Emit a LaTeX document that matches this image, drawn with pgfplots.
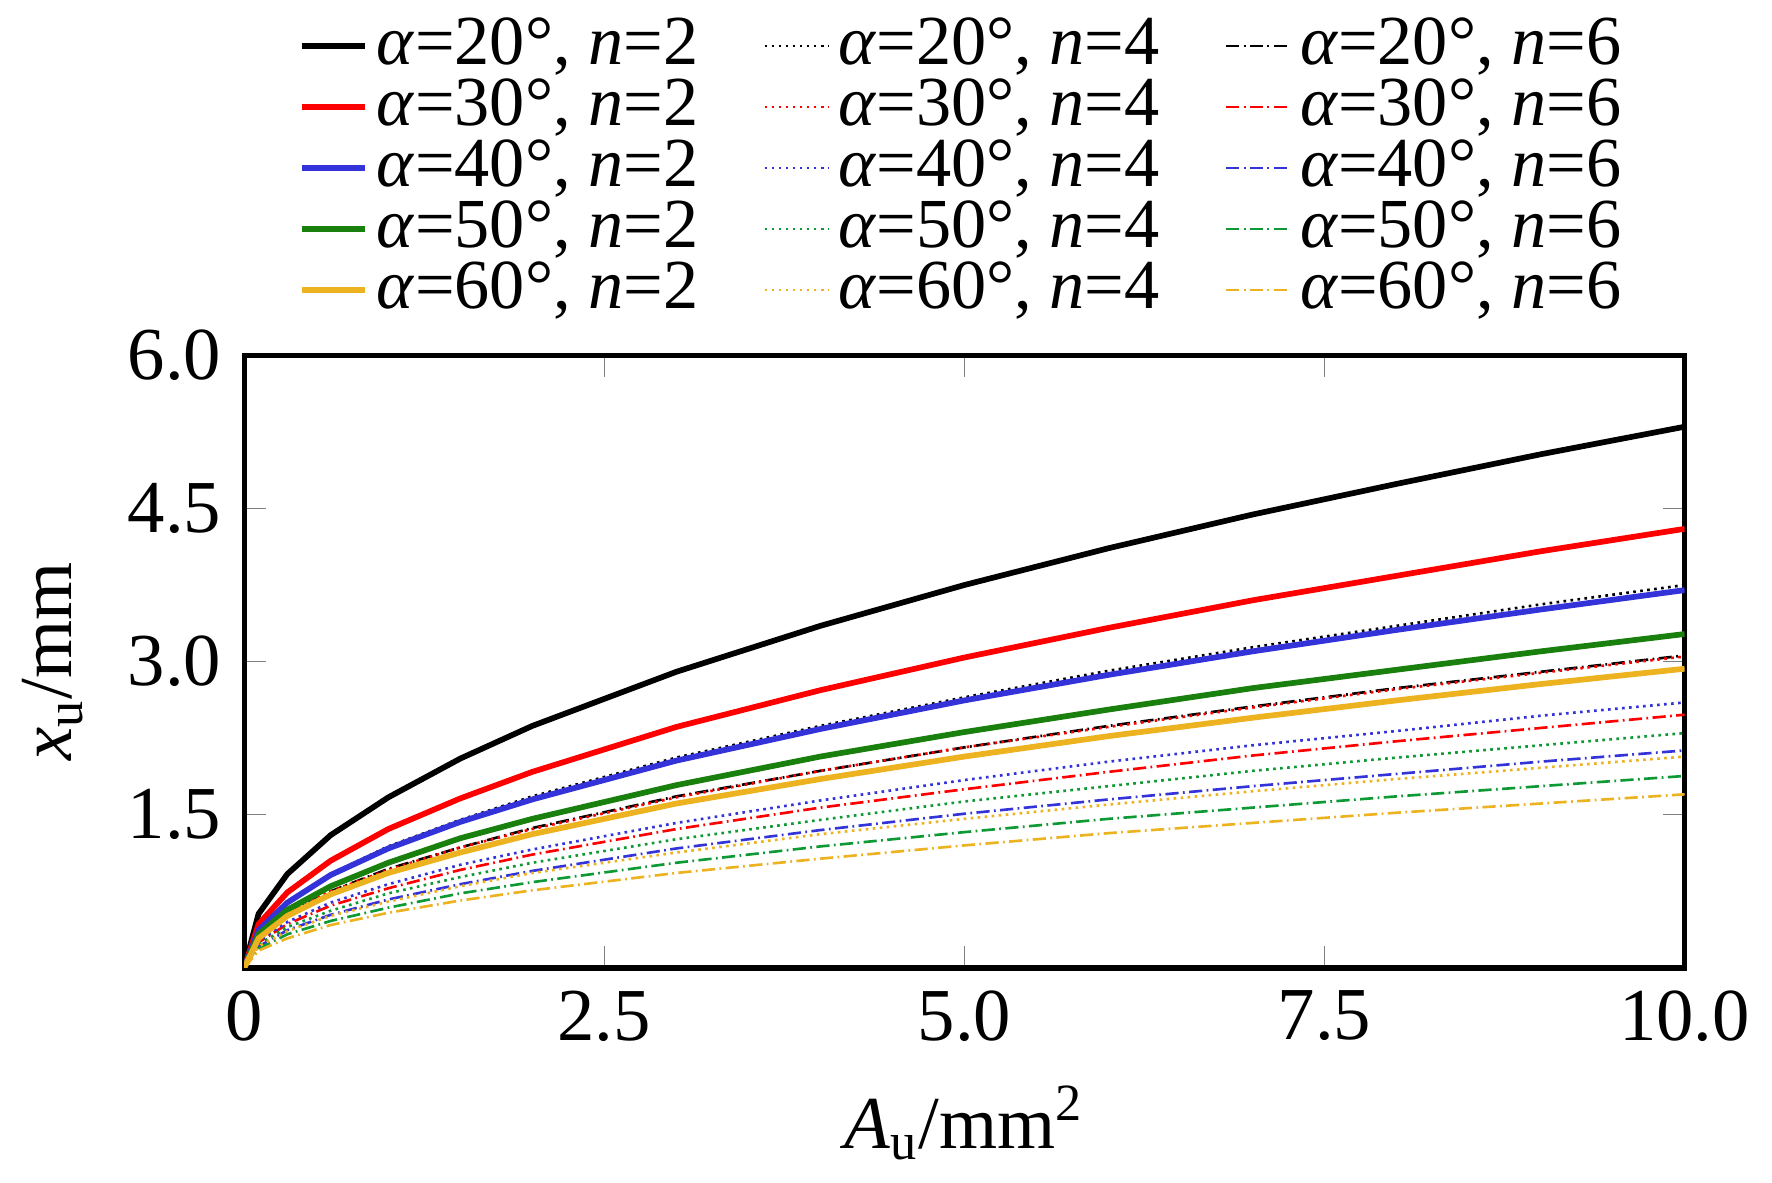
\documentclass[border=0pt]{standalone}
\usepackage{fontspec}
\setmainfont{Liberation Serif}
\usepackage{pgfplots}
\usepackage{pgfplotstable}
\pgfplotsset{compat=1.18}
\definecolor{cb}{rgb}{0.2,0.2,0.85}
\definecolor{cg}{rgb}{0.05,0.6,0.2}
\definecolor{cgd}{rgb}{0.1,0.5,0.05}
\definecolor{cy}{rgb}{0.93,0.7,0.12}
\pgfplotstableread{
A    a    b    c    d    e    f    g    h    i    j    k    l    m    n    o
0    0    0    0    0    0    0    0    0    0    0    0    0    0    0    0
0.1  .53  .43  .37  .33  .29  .38  .31  .26  .23  .21  .31  .25  .21  .19  .17
0.3  .92  .74  .64  .57  .51  .65  .53  .45  .40  .36  .53  .43  .37  .33  .29
0.6  1.30 1.05 .91  .80  .72  .92  .75  .64  .56  .51  .75  .61  .52  .46  .42
1    1.67 1.36 1.17 1.03 .93  1.19 .96  .82  .73  .65  .97  .78  .67  .59  .54
1.5  2.05 1.66 1.43 1.27 1.13 1.45 1.18 1.01 .89  .80  1.18 .96  .82  .73  .66
2    2.37 1.92 1.65 1.46 1.31 1.68 1.36 1.16 1.03 .93  1.37 1.11 .95  .84  .76
3    2.90 2.36 2.03 1.79 1.61 2.06 1.67 1.42 1.26 1.13 1.68 1.36 1.17 1.03 .93
4    3.35 2.72 2.34 2.07 1.85 2.37 1.93 1.64 1.45 1.31 1.93 1.57 1.35 1.19 1.07
5    3.75 3.04 2.62 2.31 2.07 2.65 2.16 1.84 1.63 1.46 2.16 1.75 1.51 1.33 1.20
6    4.11 3.33 2.87 2.53 2.27 2.91 2.36 2.02 1.78 1.60 2.37 1.92 1.65 1.46 1.32
7    4.44 3.60 3.10 2.74 2.45 3.14 2.55 2.18 1.93 1.73 2.56 2.08 1.78 1.57 1.42
8    4.74 3.84 3.31 2.92 2.62 3.35 2.73 2.32 2.06 1.85 2.74 2.22 1.90 1.68 1.52
9    5.03 4.08 3.51 3.10 2.78 3.56 2.89 2.47 2.18 1.96 2.90 2.35 2.02 1.78 1.61
10   5.30 4.30 3.70 3.27 2.93 3.75 3.05 2.60 2.30 2.07 3.06 2.48 2.13 1.88 1.70
}\data
\begin{document}
\fontsize{15}{18}\selectfont
\begin{tikzpicture}
\begin{axis}[
  scale only axis, width=11.52cm, height=4.9cm,
  xmin=0, xmax=10, ymin=0, ymax=6,
  xtick={0,2.5,5,7.5,10}, xticklabels={0,2.5,5.0,7.5,10.0},
  ytick={1.5,3,4.5,6}, yticklabels={1.5,3.0,4.5,6.0},
  tick align=inside, axis line style={line width=1.2pt},
  major tick length=5pt,
  tick label style={font=\fontsize{17}{20}\selectfont},
  label style={font=\fontsize{17}{20}\selectfont},
  xlabel={\textit{A}\textsubscript{u}/mm\textsuperscript{2}},
  ylabel={\textit{x}\textsubscript{u}/mm},
  legend columns=3,
  legend style={at={(0.5,1.03)}, anchor=south, draw=none, fill=none,
    font=\fontsize{16}{18}\selectfont, row sep=-3pt,
    /tikz/every even column/.append style={column sep=0.45cm}},
  legend cell align=left,
  legend image post style={xscale=0.85},
]
\addplot[black,line width=1.3pt] table[x=A,y=a]{\data}; \addlegendentry{\textit{α}=20°, \textit{n}=2}
\addplot[black,densely dotted,line width=0.6pt] table[x=A,y=f]{\data}; \addlegendentry{\textit{α}=20°, \textit{n}=4}
\addplot[black,densely dashdotted,line width=0.6pt] table[x=A,y=k]{\data}; \addlegendentry{\textit{α}=20°, \textit{n}=6}
\addplot[red,line width=1.3pt] table[x=A,y=b]{\data}; \addlegendentry{\textit{α}=30°, \textit{n}=2}
\addplot[red,densely dotted,line width=0.6pt] table[x=A,y=g]{\data}; \addlegendentry{\textit{α}=30°, \textit{n}=4}
\addplot[red,densely dashdotted,line width=0.6pt] table[x=A,y=l]{\data}; \addlegendentry{\textit{α}=30°, \textit{n}=6}
\addplot[cb,line width=1.3pt] table[x=A,y=c]{\data}; \addlegendentry{\textit{α}=40°, \textit{n}=2}
\addplot[cb,densely dotted,line width=0.6pt] table[x=A,y=h]{\data}; \addlegendentry{\textit{α}=40°, \textit{n}=4}
\addplot[cb,densely dashdotted,line width=0.6pt] table[x=A,y=m]{\data}; \addlegendentry{\textit{α}=40°, \textit{n}=6}
\addplot[cgd,line width=1.3pt] table[x=A,y=d]{\data}; \addlegendentry{\textit{α}=50°, \textit{n}=2}
\addplot[cg,densely dotted,line width=0.6pt] table[x=A,y=i]{\data}; \addlegendentry{\textit{α}=50°, \textit{n}=4}
\addplot[cg,densely dashdotted,line width=0.6pt] table[x=A,y=n]{\data}; \addlegendentry{\textit{α}=50°, \textit{n}=6}
\addplot[cy,line width=1.3pt] table[x=A,y=e]{\data}; \addlegendentry{\textit{α}=60°, \textit{n}=2}
\addplot[cy,densely dotted,line width=0.6pt] table[x=A,y=j]{\data}; \addlegendentry{\textit{α}=60°, \textit{n}=4}
\addplot[cy,densely dashdotted,line width=0.6pt] table[x=A,y=o]{\data}; \addlegendentry{\textit{α}=60°, \textit{n}=6}
\end{axis}
\end{tikzpicture}
\end{document}
